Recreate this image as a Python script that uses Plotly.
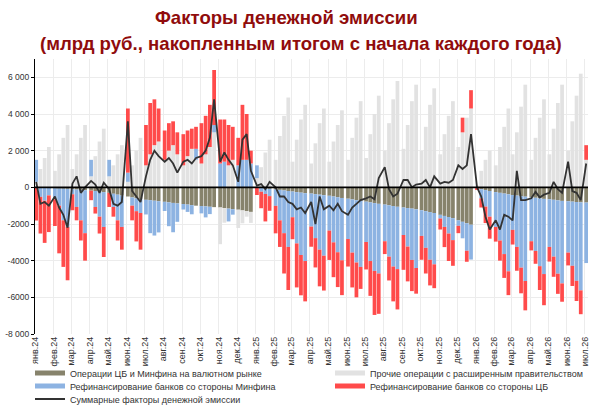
import plotly.graph_objects as go
from datetime import date

MONTHS = ["янв", "фев", "мар", "апр", "май", "июн",
          "июл", "авг", "сен", "окт", "ноя", "дек"]
WEEK_DAYS = [3, 10, 17, 24]  # one reading per week, four per month

# млрд руб., накопленным итогом с начала года (weekly)
fx_ops = [
    -10, -20, -30, -40,          # янв.24
    -50, -60, -70, -80,          # фев.24
    -100, -120, -140, -160,      # мар.24
    -180, -200, -230, -260,      # апр.24
    -300, -350, -400, -450,      # май.24
    -500, -550, -600, -650,      # июн.24
    -680, -700, -730, -760,      # июл.24
    -790, -820, -850, -880,      # авг.24
    -910, -940, -970, -1000,     # сен.24
    -1020, -1040, -1060, -1080,  # окт.24
    -1100, -1130, -1160, -1190,  # ноя.24
    -1220, -1260, -1300, -1340,  # дек.24
    -20, -40, -60, -80,          # янв.25
    -110, -140, -170, -200,      # фев.25
    -230, -260, -290, -320,      # мар.25
    -340, -370, -400, -430,      # апр.25
    -460, -500, -540, -580,      # май.25
    -620, -660, -700, -740,      # июн.25
    -780, -820, -860, -900,      # июл.25
    -940, -980, -1020, -1060,    # авг.25
    -1100, -1130, -1160, -1200,  # сен.25
    -1250, -1300, -1350, -1400,  # окт.25
    -1500, -1560, -1620, -1680,  # ноя.25
    -1800, -1880, -1960, -2040,  # дек.25
    -20, -100, -150, -200,       # янв.26
    -260, -300, -340, -380,      # фев.26
    -420, -450, -480, -510,      # мар.26
    -540, -570, -600, -630,      # апр.26
    -650, -680, -710, -740,      # май.26
    -760, -780, -800, -820,      # июн.26
    -830,                        # июл.26
]

other_gov = [
    300, 1000, 1600, 2200,
    900, 1800, 2700, 3400,
    1000, 1800, 2700, 3400,
    600, 1700, 2500, 3200,
    600, 1200, 1800, 2300,
    300, 1200, 2000, 2700,
    1200, 1800, 2300, 2500,
    1500, 2000, 2300, 1800,
    1200, 1700, 2100, 1500,
    1300, 1800, 2200, 3000,
    -2000, -800, 1200, 1500,
    -1000, -700, -300, -600,
    500, 1100, 1900, 2600,
    1500, 2800, 3900, 4900,
    1400, 2600, 3700, 4500,
    1300, 2400, 3500, 4300,
    1400, 2500, 3400, 4200,
    1500, 2700, 3800, 4700,
    1600, 2900, 4000, 5000,
    2000, 3500, 4800, 5800,
    2100, 3400, 4700, 5600,
    2000, 3300, 4500, 5400,
    1800, 2900, 3900, 4700,
    2200, 3000, 3800, 4300,
    100, 900, 1500, 2000,
    1200, 2200, 3300, 4300,
    1800, 3000, 4400, 5600,
    1500, 2700, 3800, 4800,
    1800, 3200, 4600, 5600,
    2000, 3600, 5000, 6200,
    1500,
]

minfin_refi = [
    1200, -500, -700, -400,
    -600, -940, -1730, -2080,
    -280, -950, -1660, -2340,
    900, -870, -1370, -1900,
    900, -720, -1400, -1710,
    500, -450, -700, -750,
    -800, -1800, -1900, -1700,
    -500, -1300, -1600, -1000,
    -300, -400, -500, 600,
    -400, -600, -400, 400,
    1300, 1400, -700, -300,
    1200, 1500, 1500, 1300,
    700, -200, -300, -400,
    -900, -1660, -2330, -3050,
    -1400, -2800, -3400, -3700,
    -1800, -2400, -3000, -3300,
    -1900, -2500, -3000, -3400,
    -2200, -2900, -3400, -3600,
    -2200, -3200, -3700, -3800,
    -2000, -2800, -3300, -3400,
    -1500, -2100, -2800, -3200,
    -1400, -2000, -2600, -2800,
    -200, -600, -900, -1200,
    -300, -900, -1500, -1900,
    -50, -500, -900, -1400,
    -1900, -2600, -3300, -4200,
    -1900, -2800, -3900, -4600,
    -2400, -2900, -3700, -4100,
    -2600, -3100, -4000, -4500,
    -2800, -3500, -4300, -4800,
    -3300,
]

cb_refi = [
    -1800, -2000, -2300, -2000,
    -1460, -2600, -2540, -2910,
    -870, -730, -1100, -1500,
    -520, -360, -920, -1640,
    -770, -530, -1100, -1240,
    3500, -800, -1650, -2000,
    2200, 2800, 2500, 1800,
    1600, 1500, 1300, 1200,
    1700, 1400, 1100, 1200,
    2200, 2100, 2300, 3000,
    2400, 2300, 2200, 1800,
    1500, 3000, 2500, 700,
    -400, -900, -1500, -800,
    -1500, -1450, -2200, -2350,
    -1200, -2400, -2200, -2200,
    -1100, -1600, -2000, -1900,
    -1600, -1900, -1900, -1900,
    -1500, -1900, -1900, -1200,
    -1500, -1900, -2400, -2200,
    -700, -1300, -1900, -2200,
    -1900, -1900, -1700, -1400,
    -1300, -1400, -1400, -1300,
    -600, -1100, -1500, -1400,
    -400, 800, -600, 1000,
    -50, -500, -900, -1200,
    -800, -1100, -1300, -1300,
    -800, -1300, -1400, -1600,
    -500, -700, -1300, -1700,
    -800, -1100, -1100, -1000,
    -700, -1100, -1100, -1300,
    800,
]

total = [
    300, -900, -800, -1000,
    -500, -1100, -1500, -2200,
    200, 600, -300, 0,
    350, 150, -300, 250,
    -100, -900, -1000, -800,
    3600, -200, -500, -800,
    600, 1500, 2000, 1700,
    1400, 1600, 1300, 800,
    1400, 1500, 1300, 1600,
    1700, 2000, 2700, 4800,
    1400, 1900, 1500, 1200,
    300, 2600, 2900, 900,
    100, 180, -100, 300,
    0, -500, -500, -800,
    -900, -1200, -1100, -1400,
    -800, -2000, -500, -1200,
    -1000, -1250, -900, -1300,
    -1500, -1100, -900, -700,
    -600, -500, -650, 500,
    1100, -100, -500, -350,
    400, 400, 0, 150,
    200, 400, 0, 600,
    200, 300, 250, 400,
    1200, 1000, 1200, 2900,
    0, -500, -1600, -2300,
    -1800, -2300, -1500, -1600,
    -1800, 900, -700, -700,
    -600, -250, -550, -400,
    -300, 300, -100, -300,
    1400, -200, -300, -700,
    1300,
]

Y_TICKS = [-8000, -6000, -4000, -2000, 0, 2000, 4000, 6000]
Y_TICK_TEXT = ["-8 000", "-6000", "-4000", "-2000", "0", "2 000", "4 000", "6 000"]

NAMES = [
    "Операции ЦБ и Минфина на валютном рынке",
    "Прочие операции с расширенным правительством",
    "Рефинансирование банков со стороны Минфина",
    "Рефинансирование банков со стороны ЦБ",
    "Суммарные факторы денежной эмиссии",
]
COLORS = ["#87836c", "#e2e2e2", "#8db3e2", "#ff4b4b", "#333333"]

dates = []
for i in range(31):
    yr, mo = 2024 + i // 12, i % 12 + 1
    for d in WEEK_DAYS:
        dates.append(date(yr, mo, d).isoformat())
dates = dates[:len(total)]

tick_vals = [date(2024 + i // 12, i % 12 + 1, 1).isoformat() for i in range(31)]
tick_text = [f"{MONTHS[i % 12]}.{24 + i // 12}" for i in range(31)]

FONT = "Liberation Sans, Arial, sans-serif"
BAR_W = 6.2 * 24 * 3600 * 1000
TITLE_RED = "#900c0c"

fig = go.Figure()
for name, vals, col in zip(NAMES[:4], [fx_ops, other_gov, minfin_refi, cb_refi], COLORS[:4]):
    fig.add_trace(go.Bar(x=dates, y=vals, name=name, width=BAR_W,
                         marker=dict(color=col, line=dict(width=0)),
                         showlegend=False))

fig.add_trace(go.Scatter(x=dates, y=total, mode="lines", name=NAMES[4],
                         line=dict(color=COLORS[4], width=1.8), showlegend=False))

# legend: one small legend per entry, laid out in two columns like the original
legend_ids = ["legend", "legend2", "legend3", "legend4", "legend5"]
legend_pos = [(0.05, 373), (0.55, 373), (0.05, 386), (0.55, 386), (0.05, 399)]
for name, col, w, lid in zip(NAMES, COLORS, [5, 5, 5, 5, 2], legend_ids):
    fig.add_trace(go.Scatter(x=[None], y=[None], mode="lines", name=name,
                             legend=lid, line=dict(color=col, width=w)))

legends = {}
for lid, (lx, ly) in zip(legend_ids, legend_pos):
    legends[lid] = dict(
        xref="container", yref="container", x=lx, xanchor="left",
        y=1 - ly / 409, yanchor="middle", orientation="h",
        font=dict(size=9, color="#333333"), bgcolor="rgba(0,0,0,0)",
    )

fig.update_layout(
    width=600, height=409,
    barmode="relative",
    paper_bgcolor="white", plot_bgcolor="white",
    font=dict(family=FONT, size=9, color="#333333"),
    xaxis=dict(
        type="date", range=["2024-01-01", "2026-07-06"],
        tickmode="array", tickvals=tick_vals, ticktext=tick_text,
        tickangle=-90, tickfont=dict(size=9),
        showgrid=True, gridcolor="#ececec", gridwidth=1,
        showline=False, zeroline=False, ticks="", automargin=False,
    ),
    yaxis=dict(
        range=[-8000, 7000], tickmode="array",
        tickvals=Y_TICKS, ticktext=Y_TICK_TEXT, tickfont=dict(size=8.5),
        showgrid=True, gridcolor="#ececec", gridwidth=1,
        showline=True, linecolor="black", linewidth=1,
        ticks="outside", ticklen=3, tickcolor="black",
        zeroline=False, automargin=False,
    ),
    shapes=[dict(type="line", xref="paper", x0=0, x1=1, yref="y", y0=0, y1=0,
                 line=dict(color="black", width=1.6), layer="above")],
    annotations=[
        dict(text="<b>Факторы денежной эмиссии</b>", xref="paper", yref="paper",
             x=0.454, y=1.150, xanchor="center", yanchor="middle", showarrow=False,
             font=dict(family=FONT, size=18.6, color=TITLE_RED)),
        dict(text="<b>(млрд руб., накопленным итогом с начала каждого года)</b>",
             xref="paper", yref="paper", x=0.481, y=1.058, xanchor="center",
             yanchor="middle", showarrow=False,
             font=dict(family=FONT, size=18.6, color=TITLE_RED)),
    ],
    margin=dict(l=35, r=12, t=59, b=75),
    **legends,
)

# the page's default body margin would shift the 600x409 figure out of the window
fig.write_html("out.html", config={"displayModeBar": False},
               post_script="document.body.style.margin = '0';")
